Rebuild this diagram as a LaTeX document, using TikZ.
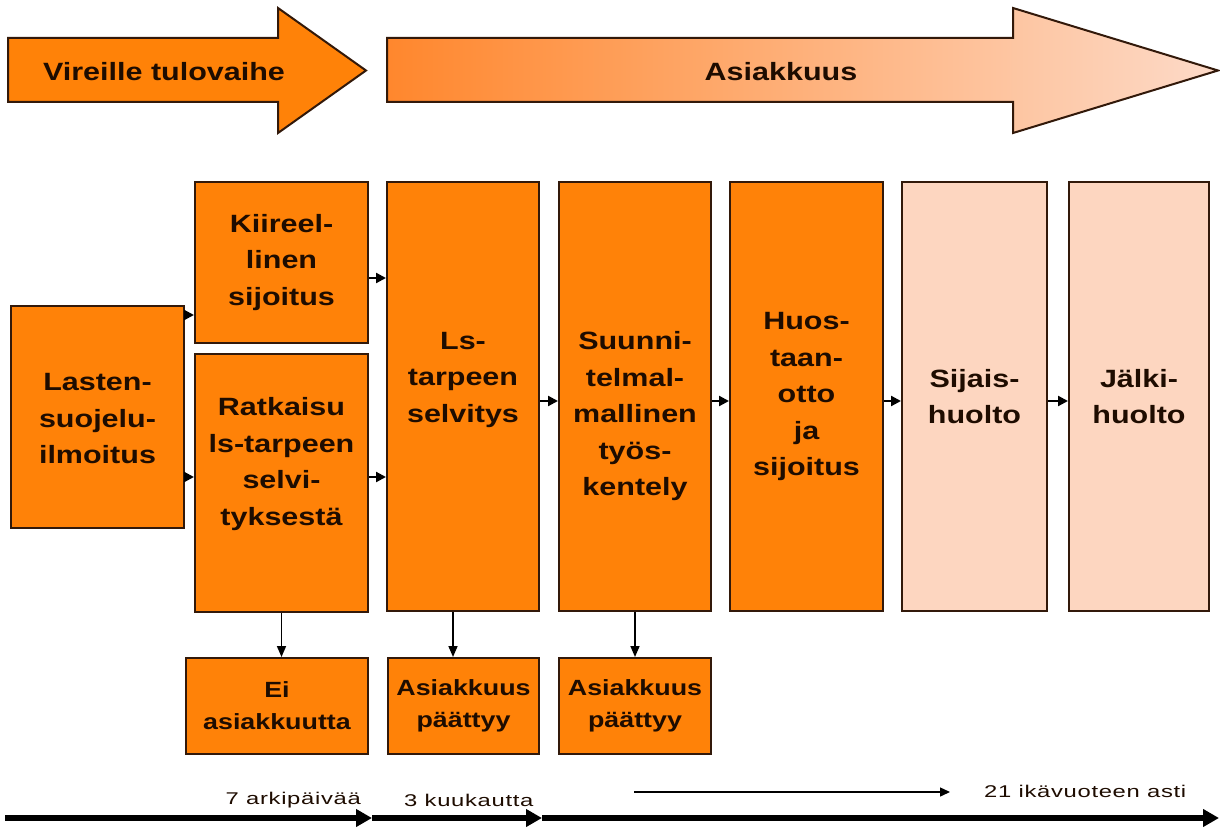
\documentclass[tikz,border=0pt]{standalone}
\usepackage{fontspec}
\setmainfont{Liberation Sans}
\newfontfamily\bfont[FakeStretch=1.22]{Liberation Sans}
\newfontfamily\tfont[FakeStretch=1.4,LetterSpace=4]{Liberation Sans}
\usetikzlibrary{arrows.meta}
\definecolor{org}{RGB}{255,130,8}
\definecolor{peach}{RGB}{253,214,192}
\definecolor{edgec}{RGB}{50,25,10}
\definecolor{ink}{RGB}{30,12,0}
\definecolor{grA}{RGB}{255,135,45}
\definecolor{grB}{RGB}{253,218,200}
\tikzset{
  box/.style={draw=edgec, line width=2pt, fill=org, inner sep=0pt, anchor=north west},
  pbox/.style={box, fill=peach},
  txt/.style={align=center, text=ink, inner sep=0pt, font=\bfont\bfseries\fontsize{25}{36.5}\selectfont},
  stxt/.style={align=center, text=ink, inner sep=0pt, font=\bfont\bfseries\fontsize{22}{32}\selectfont},
  hdr/.style={text=ink, inner sep=0pt, font=\bfont\bfseries\fontsize{25}{30}\selectfont},
  tl/.style={text=ink, inner sep=0pt, font=\tfont\fontsize{17}{20}\selectfont},
  conn/.style={-{Triangle[length=10pt,width=10pt]}, line width=2.2pt, draw=black},
  vconn/.style={-{Triangle[length=11pt,width=9pt]}, line width=1.6pt, draw=black},
  bigarr/.style={-{Triangle[length=16pt,width=17pt]}, line width=6pt, draw=black},
  thinarr/.style={-{Triangle[length=10pt,width=9pt]}, line width=1.4pt, draw=black},
  harrow/.style={draw=edgec, line width=2pt}
}
\begin{document}
\begin{tikzpicture}[x=1pt,y=-1pt]
\useasboundingbox[fill=white] (0,0) rectangle (1220,832);

% top arrows
\path[harrow, fill=org] (8,38) -- (278,38) -- (278,8) -- (366,70.5) -- (278,133) -- (278,102) -- (8,102) -- cycle;
\path[harrow, left color=grA, right color=grB] (387,38) -- (1013,38) -- (1013,8) -- (1218,70.5) -- (1013,133) -- (1013,102) -- (387,102) -- cycle;
\node[hdr] (vir) at (164,72) {Vireille tulovaihe};
\node[hdr] (asi) at (781,72) {Asiakkuus};

% main boxes
\node[box, minimum width=173pt, minimum height=222pt] (las) at (10,305) {};
\node[box, minimum width=173pt, minimum height=161pt] (kii) at (194,181) {};
\node[box, minimum width=173pt, minimum height=258pt] (rat) at (194,353) {};
\node[box, minimum width=152pt, minimum height=429pt] (ls) at (386,181) {};
\node[box, minimum width=152pt, minimum height=429pt] (suu) at (558,181) {};
\node[box, minimum width=153pt, minimum height=429pt] (huo) at (729,181) {};
\node[pbox, minimum width=145pt, minimum height=429pt] (sij) at (901,181) {};
\node[pbox, minimum width=140pt, minimum height=429pt] (jal) at (1068,181) {};
\node[box, minimum width=182pt, minimum height=96pt] (ei) at (185,657) {};
\node[box, minimum width=151pt, minimum height=96pt] (ap1) at (387,657) {};
\node[box, minimum width=152pt, minimum height=96pt] (ap2) at (558,657) {};

% texts
\node[txt] (lasT) at ([yshift=-2pt]las.center) {Lasten-\\suojelu-\\ilmoitus};
\node[txt] (kiiT) at (kii.center) {Kiireel-\\linen\\sijoitus};
\node[txt] (ratT) at ([yshift=19pt]rat.center) {Ratkaisu\\ls-tarpeen\\selvi-\\tyksestä};
\node[txt] (lsT) at ([yshift=17pt]ls.center) {Ls-\\tarpeen\\selvitys};
\node[txt] (suuT) at ([yshift=-20pt]suu.center) {Suunni-\\telmal-\\mallinen\\työs-\\kentely};
\node[txt] (huoT) at (huo.center) {Huos-\\taan-\\otto\\ja\\sijoitus};
\node[txt] (sijT) at (sij.center) {Sijais-\\huolto};
\node[txt] (jalT) at (jal.center) {Jälki-\\huolto};
\node[stxt] (eiT) at (ei.center) {Ei\\asiakkuutta};
\node[stxt] (ap1T) at (ap1.center) {Asiakkuus\\päättyy};
\node[stxt] (ap2T) at (ap2.center) {Asiakkuus\\päättyy};

% connectors
\coordinate (c1) at ([yshift=-10pt]las.north east);
\coordinate (c2) at ([yshift=-60pt]las.east);
\coordinate (c3) at ([yshift=-15.5pt]kii.east);
\coordinate (c4) at ([yshift=6pt]rat.east);
\coordinate (c5) at ([yshift=-4.5pt]ls.east);
\coordinate (c6) at ([yshift=-4.5pt]suu.east);
\coordinate (c7) at ([yshift=-4.5pt]huo.east);
\coordinate (c8) at ([yshift=-4.5pt]sij.east);
\draw[conn] (c1) -- (c1 -| kii.west);
\draw[conn] (c2) -- (c2 -| rat.west);
\draw[conn] (c3) -- (c3 -| ls.west);
\draw[conn] (c4) -- (c4 -| ls.west);
\draw[conn] (c5) -- (c5 -| suu.west);
\draw[conn] (c6) -- (c6 -| huo.west);
\draw[conn] (c7) -- (c7 -| sij.west);
\draw[conn] (c8) -- (c8 -| jal.west);

\coordinate (d1) at ([xshift=-10pt]ls.south);
\draw[vconn] (rat.south) -- (rat.south |- ei.north);
\draw[vconn] (d1) -- (d1 |- ap1.north);
\draw[vconn] (suu.south) -- (suu.south |- ap2.north);

% timeline
\coordinate (t0) at (5,818);
\coordinate (t1) at (372,818);
\coordinate (t2) at (542,818);
\coordinate (t3) at (1219,818);
\draw[bigarr] (t0) -- (t1);
\draw[bigarr] (t1) -- (t2);
\draw[bigarr] (t2) -- (t3);
\coordinate (a0) at (634,792);
\coordinate (a1) at (950,792);
\draw[thinarr] (a0) -- (a1);
\node[tl, anchor=east] (l7) at (361,800) {7 arkipäivää};
\node[tl, anchor=west] (l3) at (404,800) {3 kuukautta};
\node[tl, anchor=west] (l21) at (984,791) {21 ikävuoteen asti};
\end{tikzpicture}
\end{document}
